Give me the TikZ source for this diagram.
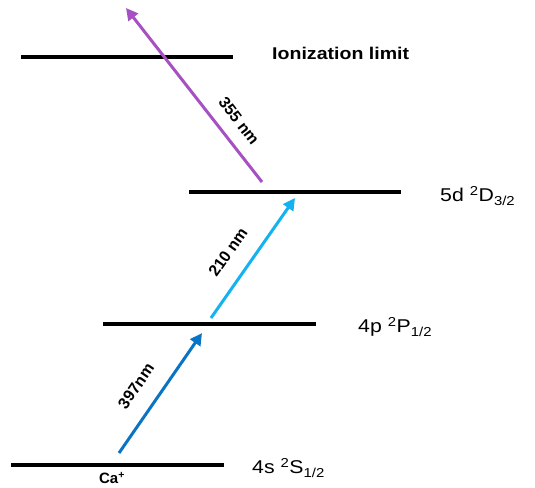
\documentclass[tikz,border=0pt]{standalone}
\usepackage{fontspec}
\setmainfont{Liberation Sans}
\usetikzlibrary{arrows.meta}
\definecolor{cpurple}{HTML}{A650C4}
\definecolor{cblue}{HTML}{0A74C4}
\definecolor{clight}{HTML}{14B2F0}
\tikzset{
  level/.style={line width=3.5pt},
  beam/.style={line width=3pt,-{Triangle[length=12pt,width=12pt]}},
  lvllabel/.style={anchor=west,inner sep=0pt,font=\fontsize{18.5}{20}\selectfont,xscale=1.15},
  beamlabel/.style={inner sep=0pt,font=\bfseries\fontsize{16}{18}\selectfont}
}
\begin{document}
\begin{tikzpicture}[x=1pt,y=-1pt]
\useasboundingbox (0,0) rectangle (535,487);
% levels
\coordinate (i1) at (21,57);  \coordinate (i2) at (233,57);
\coordinate (d1) at (189,192); \coordinate (d2) at (401,192);
\coordinate (p1) at (103,324); \coordinate (p2) at (316,324);
\coordinate (s1) at (11,465);  \coordinate (s2) at (224,465);
\draw[level] (i1) -- (i2);
\draw[level] (d1) -- (d2);
\draw[level] (p1) -- (p2);
\draw[level] (s1) -- (s2);
% labels
\node[lvllabel,font=\bfseries\fontsize{17}{19}\selectfont] (lion) at (272,53) {Ionization limit};
\node[lvllabel] (ld) at (440,196) {5d \textsuperscript{2}D\textsubscript{3/2}};
\node[lvllabel] (lp) at (358,327) {4p \textsuperscript{2}P\textsubscript{1/2}};
\node[lvllabel] (ls) at (252,468) {4s \textsuperscript{2}S\textsubscript{1/2}};
\node[inner sep=0pt,font=\bfseries\fontsize{15}{17}\selectfont] (ca) at (112,478) {Ca\textsuperscript{+}};
% beams
\coordinate (a1) at (119,453); \coordinate (a2) at (202,333);
\coordinate (b1) at (211,318); \coordinate (b2) at (295,198);
\coordinate (c1) at (262,182); \coordinate (c2) at (126,8);
\draw[beam,cblue] (a1) -- (a2);
\draw[beam,clight] (b1) -- (b2);
\draw[beam,cpurple] (c1) -- (c2);
\node[beamlabel,rotate=55.5] (la) at (136,386) {397nm};
\node[beamlabel,rotate=55] (lb) at (228,252) {210 nm};
\node[beamlabel,rotate=-52.5] (lc) at (239,121) {355 nm};
\end{tikzpicture}
\end{document}
